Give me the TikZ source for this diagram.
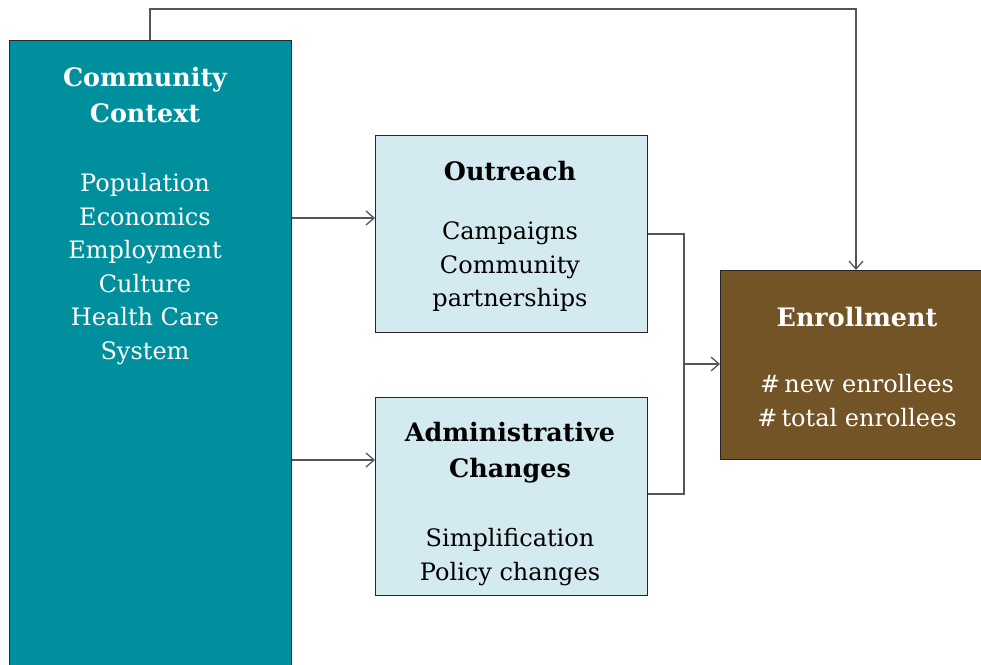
\documentclass[tikz,border=0pt]{standalone}
\usepackage{fontspec}
\setmainfont{DejaVu Serif}
\usetikzlibrary{arrows.meta}
\definecolor{teal}{HTML}{008F9D}
\definecolor{lblue}{HTML}{D3EAF1}
\definecolor{brown}{HTML}{735427}
\definecolor{linec}{HTML}{555555}
\tikzset{
  box/.style={draw=black!85, line width=1.1pt, rectangle, inner sep=0pt},
  arr/.style={draw=linec, line width=1.3pt, -{Straight Barb[length=8pt,width=14pt,line width=1.3pt]}},
  conn/.style={draw=linec, line width=1.3pt},
  ttl/.style={font=\fontsize{25.4}{36}\selectfont\bfseries, align=center, inner sep=0pt},
  bdy/.style={font=\fontsize{24}{33.5}\selectfont, align=center, inner sep=0pt},
}
\begin{document}
\begin{tikzpicture}[x=1pt,y=-1pt]
\useasboundingbox (0,0) rectangle (981,664);
\fill[white] (0,0) rectangle (981,664);
% boxes
\node[box, fill=teal, minimum width=282pt, minimum height=660pt, anchor=north west] (ctx) at (9,40) {};
\node[box, fill=lblue, minimum width=272pt, minimum height=197pt, anchor=north west] (out) at (375,135) {};
\node[box, fill=lblue, minimum width=272pt, minimum height=198pt, anchor=north west] (adm) at (375,397) {};
\node[box, fill=brown, minimum width=274pt, minimum height=189pt, anchor=north west] (enr) at (720,270) {};
% texts
\node[ttl, text=white, anchor=north] (ctxt) at (145,67) {Community\\Context};
\node[bdy, text=white, anchor=north] (ctxb) at (145,173.5) {Population\\Economics\\Employment\\Culture\\Health Care\\System};
\node[ttl, text=black, anchor=north] (outt) at (510,161) {Outreach};
\node[bdy, text=black, anchor=north] (outb) at (510,221.5) {Campaigns\\Community\\partnerships};
\node[ttl, text=black, anchor=north] (admt) at (510,422) {Administrative\\Changes};
\node[bdy, text=black, anchor=north] (admb) at (510,528.5) {Simplification\\Policy changes};
\node[ttl, text=white, anchor=north] (enrt) at (857,307) {Enrollment};
\node[bdy, text=white, anchor=north] (enrb) at (857,374.5) {\#\,new enrollees\\\#\,total enrollees};
% connectors
\coordinate (top1) at (150,9);
\coordinate (top2) at (856,9);
\draw[arr] (ctx.north -| top1) -- (top1) -- (top2) -- (enr.north -| top2);
\draw[arr] (ctx.east |- 0,218) -- (out.west |- 0,218);
\draw[arr] (ctx.east |- 0,460) -- (adm.west |- 0,460);
\coordinate (jn) at (684,364);
\draw[conn] (out.east |- 0,234) -- (jn |- 0,234) -- (jn |- 0,494) -- (adm.east |- 0,494);
\draw[arr] (jn) -- (enr.west |- jn);
\end{tikzpicture}
\end{document}
